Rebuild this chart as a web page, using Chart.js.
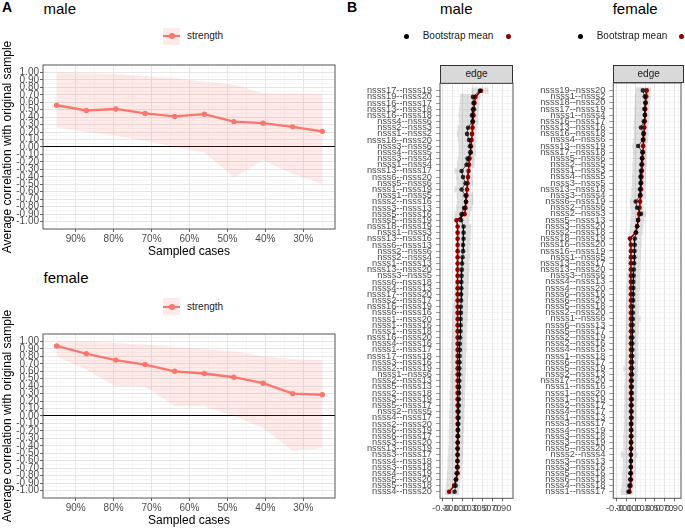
<!DOCTYPE html>
<html>
<head>
<meta charset="utf-8">
<script src="https://cdn.jsdelivr.net/npm/chart.js@4.4.1/dist/chart.umd.min.js"></script>
<style>
body { margin: 0; background: #fff; }
#page { position: relative; width: 685px; height: 529px; overflow: hidden; font-family: 'Liberation Sans', Arial, sans-serif; }
#page canvas { position: absolute; }
.t { position: absolute; white-space: nowrap; font-size: 15px; line-height: 15px; color: #000; }
.tag { font-weight: bold; font-size: 14px; }
.lg { position: absolute; white-space: nowrap; font-size: 10px; line-height: 10px; color: #1a1a1a; }
.akey { position: absolute; width: 17px; height: 17px; background: rgba(248,118,109,0.15); }
.akey i { position: absolute; display: block; background: #F8766D; }
.akey .ln { left: 0; width: 17px; top: 7.5px; height: 2px; }
.akey .pt { left: 5.5px; top: 5.5px; width: 6px; height: 6px; border-radius: 50%; }
.dot { position: absolute; width: 5px; height: 5px; border-radius: 50%; }
.strip { position: absolute; background: #d9d9d9; border: 1px solid #333; box-sizing: border-box; font-size: 10px; color: #1a1a1a; text-align: center; }
</style>
</head>
<body>
<div id="page">
  <div class="t tag" style="left:2px;top:-0.5px">A</div>
  <div class="t" style="left:43.5px;top:0.5px">male</div>
  <div class="akey" style="left:163px;top:27.5px"><i class="ln"></i><i class="pt"></i></div>
  <div class="lg" style="left:187px;top:31px">strength</div>
  <canvas id="aMale" width="340" height="262" style="left:0;top:0"></canvas>

  <div class="t" style="left:43.5px;top:269.5px">female</div>
  <div class="akey" style="left:163px;top:298px"><i class="ln"></i><i class="pt"></i></div>
  <div class="lg" style="left:187px;top:301.5px">strength</div>
  <canvas id="aFemale" width="340" height="262" style="left:0;top:269px"></canvas>

  <div class="t tag" style="left:347px;top:-0.5px">B</div>
  <div class="t" style="left:440px;top:0.5px">male</div>
  <div class="dot" style="left:404.2px;top:33.5px;background:#000"></div>
  <div class="lg" style="left:422.7px;top:31px">Bootstrap mean</div>
  <div class="dot" style="left:505.5px;top:33.5px;background:#8B0000"></div>
  <div class="strip" style="left:440px;top:65px;width:73px;height:18.5px;line-height:16.5px">edge</div>
  <canvas id="bMale" width="185" height="465" style="left:345px;top:60px"></canvas>

  <div class="t" style="left:612.7px;top:0.5px">female</div>
  <div class="dot" style="left:577.5px;top:33.5px;background:#000"></div>
  <div class="lg" style="left:596.7px;top:31px">Bootstrap mean</div>
  <div class="dot" style="left:679.2px;top:33.5px;background:#8B0000"></div>
  <div class="strip" style="left:613.3px;top:64.5px;width:70.7px;height:18.8px;line-height:16.8px">edge</div>
  <canvas id="bFemale" width="165" height="465" style="left:520px;top:60px"></canvas>
</div>
<script>
// Panel A: case-dropping stability
const sampledCases = [0.95, 0.872, 0.794, 0.717, 0.639, 0.561, 0.483, 0.406, 0.328, 0.25];
const maleStrength = [0.56, 0.49, 0.51, 0.45, 0.41, 0.44, 0.34, 0.32, 0.27, 0.21];
const maleUpper = [1.0, 0.99, 0.98, 0.95, 0.92, 0.88, 0.84, 0.72, 0.71, 0.71];
const maleLower = [0.26, 0.20, 0.15, 0.085, 0.0, -0.07, -0.41, -0.18, -0.36, -0.50];
const femaleStrength = [0.94, 0.835, 0.75, 0.69, 0.60, 0.57, 0.52, 0.44, 0.30, 0.285];
const femaleUpper = [1.0, 1.0, 0.98, 0.96, 0.925, 0.90, 0.87, 0.80, 0.76, 0.75];
const femaleLower = [0.80, 0.62, 0.40, 0.40, 0.13, 0.13, 0.0, -0.16, -0.47, -0.43];

const pctBreaks = [0.9, 0.8, 0.7, 0.6, 0.5, 0.4, 0.3];
const corrBreaks = [-1, -0.9, -0.8, -0.7, -0.6, -0.5, -0.4, -0.3, -0.2, -0.1, 0,
                    0.1, 0.2, 0.3, 0.4, 0.5, 0.6, 0.7, 0.8, 0.9, 1];
const edgeBreaks = [-0.3, -0.1, 0.1, 0.3, 0.5, 0.7, 0.9];

// Panel B: edge weights, sorted as in the plot
const maleEdges = [
  'nsss17--nsss19', 'nsss19--nsss20', 'nsss16--nsss17', 'nsss13--nsss18', 'nsss16--nsss18',
  'nsss4--nsss6', 'nsss2--nsss3', 'nsss1--nsss2', 'nsss18--nsss20', 'nsss3--nsss6',
  'nsss4--nsss5', 'nsss3--nsss4', 'nsss1--nsss4', 'nsss13--nsss17', 'nsss6--nsss20',
  'nsss5--nsss6', 'nsss1--nsss19', 'nsss1--nsss5', 'nsss2--nsss16', 'nsss3--nsss13',
  'nsss5--nsss16', 'nsss5--nsss19', 'nsss18--nsss19', 'nsss1--nsss3', 'nsss13--nsss16',
  'nsss6--nsss13', 'nsss2--nsss6', 'nsss2--nsss4', 'nsss1--nsss13', 'nsss13--nsss20',
  'nsss3--nsss5', 'nsss6--nsss18', 'nsss4--nsss13', 'nsss17--nsss20', 'nsss2--nsss17',
  'nsss16--nsss19', 'nsss6--nsss16', 'nsss1--nsss20', 'nsss1--nsss16', 'nsss1--nsss18',
  'nsss16--nsss20', 'nsss4--nsss16', 'nsss1--nsss17', 'nsss17--nsss18', 'nsss3--nsss16',
  'nsss2--nsss19', 'nsss1--nsss6', 'nsss2--nsss13', 'nsss5--nsss13', 'nsss2--nsss18',
  'nsss3--nsss19', 'nsss5--nsss17', 'nsss2--nsss5', 'nsss4--nsss17', 'nsss2--nsss20',
  'nsss6--nsss19', 'nsss6--nsss17', 'nsss3--nsss20', 'nsss13--nsss19', 'nsss3--nsss17',
  'nsss4--nsss18', 'nsss3--nsss18', 'nsss4--nsss19', 'nsss5--nsss20', 'nsss5--nsss18',
  'nsss4--nsss20'
];
const maleSample = [
  0.47, 0.36, 0.34, 0.33, 0.32, 0.31, 0.30, 0.29, 0.28, 0.27,
  0.26, 0.24, 0.23, 0.22, 0.21, 0.20, 0.19, 0.18, 0.17, 0.16,
  0.14, -0.02, 0, 0, 0, 0, 0, 0, 0, 0,
  0, 0, 0, 0, 0, 0, 0, 0, 0, 0,
  0, 0, 0, 0, 0, 0, 0, 0, 0, 0,
  0, 0, 0, 0, 0, 0, 0, 0, 0, 0,
  0, 0, 0, -0.03, -0.07, -0.17
];
const maleBoot = [
  0.45, 0.31, 0.32, 0.31, 0.29, 0.30, 0.21, 0.19, 0.23, 0.25,
  0.26, 0.20, 0.18, 0.08, 0.11, 0.16, 0.08, 0.16, 0.17, 0.13,
  0.08, 0.07, 0.12, 0.12, 0.12, 0.11, 0.11, 0.10, 0.09, 0.085,
  0.08, 0.075, 0.075, 0.07, 0.07, 0.065, 0.065, 0.06, 0.06, 0.055,
  0.05, 0.045, 0.045, 0.04, 0.04, 0.035, 0.035, 0.035, 0.03, 0.03,
  0.025, 0.025, 0.02, 0.02, 0.015, 0.01, 0.01, 0.005, 0, 0,
  -0.005, -0.01, -0.02, -0.035, -0.04, -0.06
];
const maleCILow = [
  0.28, 0.05, 0.04, 0.03, 0.02, 0.03, 0.00, -0.01, 0.01, 0.02,
  0.02, 0.00, -0.01, -0.06, -0.03, -0.02, -0.06, -0.02, -0.01, -0.03,
  -0.06, -0.07, -0.01, -0.01, -0.02, -0.02, -0.02, -0.03, -0.03, -0.04,
  -0.04, -0.05, -0.06, -0.07, -0.08, -0.09, -0.10, -0.11, -0.11, -0.12,
  -0.12, -0.13, -0.13, -0.14, -0.14, -0.14, -0.15, -0.15, -0.15, -0.16,
  -0.16, -0.16, -0.17, -0.17, -0.17, -0.18, -0.18, -0.18, -0.19, -0.19,
  -0.20, -0.20, -0.21, -0.22, -0.23, -0.25
];
const maleCIHigh = [
  0.62, 0.46, 0.44, 0.43, 0.42, 0.42, 0.39, 0.38, 0.38, 0.37,
  0.37, 0.35, 0.34, 0.28, 0.30, 0.31, 0.27, 0.31, 0.32, 0.29,
  0.26, 0.24, 0.27, 0.27, 0.26, 0.26, 0.25, 0.25, 0.24, 0.24,
  0.23, 0.23, 0.22, 0.22, 0.21, 0.21, 0.20, 0.20, 0.19, 0.19,
  0.18, 0.18, 0.18, 0.17, 0.17, 0.17, 0.16, 0.16, 0.16, 0.15,
  0.15, 0.15, 0.14, 0.14, 0.13, 0.13, 0.12, 0.12, 0.11, 0.11,
  0.10, 0.09, 0.08, 0.06, 0.05, 0.03
];

const femaleEdges = [
  'nsss19--nsss20', 'nsss1--nsss2', 'nsss18--nsss20', 'nsss17--nsss19', 'nsss1--nsss4',
  'nsss16--nsss17', 'nsss13--nsss16', 'nsss16--nsss18', 'nsss4--nsss6', 'nsss13--nsss19',
  'nsss17--nsss18', 'nsss5--nsss6', 'nsss2--nsss5', 'nsss1--nsss3', 'nsss4--nsss5',
  'nsss3--nsss5', 'nsss13--nsss18', 'nsss3--nsss4', 'nsss6--nsss19', 'nsss2--nsss6',
  'nsss2--nsss3', 'nsss5--nsss13', 'nsss3--nsss20', 'nsss2--nsss18', 'nsss18--nsss19',
  'nsss16--nsss20', 'nsss16--nsss19', 'nsss1--nsss5', 'nsss13--nsss17', 'nsss13--nsss20',
  'nsss3--nsss6', 'nsss4--nsss13', 'nsss4--nsss20', 'nsss6--nsss16', 'nsss6--nsss20',
  'nsss5--nsss18', 'nsss2--nsss20', 'nsss1--nsss6', 'nsss6--nsss13', 'nsss5--nsss17',
  'nsss2--nsss19', 'nsss2--nsss16', 'nsss4--nsss16', 'nsss1--nsss18', 'nsss6--nsss17',
  'nsss5--nsss19', 'nsss2--nsss13', 'nsss17--nsss20', 'nsss1--nsss16', 'nsss1--nsss20',
  'nsss1--nsss19', 'nsss2--nsss17', 'nsss4--nsss17', 'nsss1--nsss13', 'nsss3--nsss17',
  'nsss4--nsss19', 'nsss3--nsss18', 'nsss3--nsss19', 'nsss5--nsss20', 'nsss2--nsss4',
  'nsss3--nsss13', 'nsss3--nsss16', 'nsss5--nsss16', 'nsss6--nsss18', 'nsss4--nsss18',
  'nsss1--nsss17'
];
const femaleSample = [
  0.33, 0.32, 0.31, 0.30, 0.295, 0.29, 0.28, 0.27, 0.26, 0.255,
  0.25, 0.24, 0.235, 0.23, 0.22, 0.215, 0.21, 0.20, 0.19, 0.18,
  0.17, 0.15, 0.13, 0.10, -0.02, 0, 0, 0, 0, 0,
  0, 0, 0, 0, 0, 0, 0, 0, 0, 0,
  0, 0, 0, 0, 0, 0, 0, 0, 0, 0,
  0, 0, 0, 0, 0, 0, 0, 0, 0, 0,
  0, 0, 0, 0, -0.01, -0.03
];
const femaleBoot = [
  0.25, 0.29, 0.30, 0.28, 0.29, 0.27, 0.21, 0.26, 0.25, 0.15,
  0.24, 0.23, 0.22, 0.21, 0.20, 0.20, 0.19, 0.19, 0.10, 0.13,
  0.21, 0.15, 0.13, 0.11, 0.08, 0.08, 0.075, 0.07, 0.065, 0.06,
  0.055, 0.05, 0.05, 0.045, 0.045, 0.04, 0.04, 0.04, 0.035, 0.035,
  0.03, 0.03, 0.03, 0.03, 0.025, 0.025, 0.025, 0.02, 0.02, 0.02,
  0.02, 0.015, 0.015, 0.015, 0.01, 0.01, 0.01, 0.005, 0.005, 0,
  0, -0.005, -0.01, -0.015, -0.03, -0.05
];
const femaleCILow = [
  0.10, 0.08, 0.08, 0.07, 0.07, 0.06, 0.05, 0.06, 0.05, 0.03,
  0.04, 0.04, 0.03, 0.03, 0.02, 0.02, 0.01, 0.01, -0.02, -0.01,
  0.00, -0.01, -0.02, -0.03, -0.04, -0.05, -0.05, -0.06, -0.07, -0.07,
  -0.08, -0.08, -0.09, -0.09, -0.10, -0.10, -0.10, -0.11, -0.11, -0.11,
  -0.12, -0.12, -0.12, -0.12, -0.13, -0.16, -0.13, -0.13, -0.14, -0.14,
  -0.14, -0.14, -0.15, -0.15, -0.15, -0.15, -0.16, -0.16, -0.16, -0.21,
  -0.17, -0.17, -0.18, -0.18, -0.19, -0.21
];
const femaleCIHigh = [
  0.42, 0.41, 0.40, 0.39, 0.39, 0.38, 0.36, 0.37, 0.36, 0.33,
  0.34, 0.33, 0.33, 0.32, 0.31, 0.31, 0.30, 0.30, 0.25, 0.27,
  0.31, 0.28, 0.26, 0.25, 0.22, 0.22, 0.21, 0.21, 0.20, 0.20,
  0.19, 0.19, 0.19, 0.18, 0.18, 0.18, 0.17, 0.20, 0.17, 0.17,
  0.16, 0.16, 0.16, 0.16, 0.15, 0.15, 0.15, 0.14, 0.14, 0.14,
  0.14, 0.13, 0.13, 0.13, 0.12, 0.12, 0.12, 0.11, 0.11, 0.14,
  0.10, 0.10, 0.09, 0.08, 0.07, 0.05
];

Chart.defaults.font.family = "'Liberation Sans', Arial, sans-serif";
const salmon = '#F8766D';
const darkred = '#8B0000';

// major breaks plus ggplot-style minor breaks halfway between them
function withMinor(breaks, min, max) {
  const s = [...breaks].sort((a, b) => a - b);
  const step = s[1] - s[0];
  const out = s.map(v => ({ value: v, isMajor: true }));
  for (let i = -1; i < s.length; i++) {
    const m = s[0] + (i + 0.5) * step;
    if (m > min && m < max) out.push({ value: m, isMajor: false });
  }
  return out.sort((a, b) => a.value - b.value);
}

const major = ctx => ctx.tick && ctx.tick.isMajor;
const gridColor = ctx => major(ctx) ? '#e3e3e3' : '#efefef';
const gridWidth = ctx => major(ctx) ? 0.9 : 0.5;
const tickColor = ctx => major(ctx) ? '#555' : 'rgba(0,0,0,0)';

const panelBorder = {
  id: 'panelBorder',
  afterDraw(chart) {
    const { ctx, chartArea: a } = chart;
    ctx.save();
    ctx.strokeStyle = '#555';
    ctx.lineWidth = 1;
    ctx.strokeRect(a.left, a.top, a.width, a.height);
    ctx.restore();
  }
};

function pts(values) {
  return sampledCases.map((x, i) => ({ x: x, y: values[i] }));
}

function panelA(id, strength, lower, upper) {
  new Chart(document.getElementById(id), {
    type: 'line',
    data: {
      datasets: [
        { label: 'strength', data: pts(strength), borderColor: salmon, backgroundColor: salmon,
          borderWidth: 2.3, pointRadius: 2.7, pointBorderWidth: 0, pointBackgroundColor: salmon },
        { label: 'upper', data: pts(upper), borderColor: 'rgba(0,0,0,0)', borderWidth: 0, pointRadius: 0, fill: false },
        { label: 'lower', data: pts(lower), borderColor: 'rgba(0,0,0,0)', borderWidth: 0, pointRadius: 0,
          fill: 1, backgroundColor: 'rgba(248,118,109,0.15)' }
      ]
    },
    options: {
      responsive: false,
      animation: false,
      devicePixelRatio: 1,
      layout: { padding: { left: 0, right: 5, top: 65, bottom: 0 } },
      plugins: { legend: { display: false }, tooltip: { enabled: false } },
      scales: {
        x: {
          type: 'linear', reverse: true, min: 0.2165, max: 0.986,
          afterBuildTicks: s => { s.ticks = withMinor(pctBreaks, s.min, s.max); },
          afterFit: s => { s.height = 33; s.paddingLeft = 0; s.paddingRight = 0; },
          ticks: { autoSkip: false, maxRotation: 0, minRotation: 0, padding: 1, color: '#4d4d4d', font: { size: 10 },
                   callback: (v, i, t) => t[i].isMajor ? Math.round(v * 100) + '%' : '' },
          grid: { color: gridColor, lineWidth: gridWidth, tickLength: 3, tickColor: tickColor },
          border: { display: false },
          title: { display: true, text: 'Sampled cases', color: '#000', font: { size: 12 }, padding: { top: 0, bottom: 3 } }
        },
        y: {
          type: 'linear', min: -1.1, max: 1.1,
          afterBuildTicks: s => { s.ticks = withMinor(corrBreaks, s.min, s.max); },
          afterFit: s => { s.width = 43; s.paddingTop = 0; s.paddingBottom = 0; },
          ticks: { autoSkip: false, padding: 1, color: '#4d4d4d', font: { size: 10 },
                   callback: (v, i, t) => t[i].isMajor ? v.toFixed(2) : '' },
          grid: {
            color: ctx => ctx.tick && ctx.tick.value === 0 ? '#000' : gridColor(ctx),
            lineWidth: ctx => ctx.tick && ctx.tick.value === 0 ? 1.1 : gridWidth(ctx),
            tickLength: 3, tickColor: tickColor
          },
          border: { display: false },
          title: { display: true, text: 'Average correlation with original sample', color: '#000',
                   font: { size: 12 }, padding: { top: 0, bottom: 0 } }
        }
      }
    },
    plugins: [panelBorder]
  });
}

function panelB(id, edges, sample, boot, lo, hi, xmin, xmax, yWidth, top, right) {
  new Chart(document.getElementById(id), {
    type: 'bar',
    data: {
      labels: edges.map((e, i) => i),
      datasets: [
        { type: 'line', label: 'Bootstrap mean', data: boot, borderColor: 'rgba(0,0,0,0.8)', borderWidth: 0.8,
          pointRadius: 2.3, pointBorderWidth: 0, pointBackgroundColor: 'rgba(0,0,0,0.8)' },
        { type: 'line', label: 'Sample', data: sample, borderColor: darkred, borderWidth: 1.6,
          pointRadius: 2.3, pointBorderWidth: 0, pointBackgroundColor: darkred },
        { type: 'bar', label: 'CI', data: lo.map((v, i) => [v, hi[i]]), backgroundColor: 'rgba(0,0,0,0.12)',
          borderWidth: 0, barPercentage: 1, categoryPercentage: 1, inflateAmount: 0 }
      ]
    },
    options: {
      indexAxis: 'y',
      responsive: false,
      animation: false,
      devicePixelRatio: 1,
      layout: { padding: { left: 0, right: right, top: top, bottom: 0 } },
      plugins: { legend: { display: false }, tooltip: { enabled: false } },
      scales: {
        x: {
          type: 'linear', min: xmin, max: xmax,
          afterBuildTicks: s => { s.ticks = withMinor(edgeBreaks, s.min, s.max); },
          afterFit: s => { s.height = 26.7; s.paddingLeft = 0; s.paddingRight = 0; },
          ticks: { autoSkip: false, maxRotation: 0, minRotation: 0, padding: 1.5, color: '#4d4d4d', font: { size: 9.3 },
                   callback: (v, i, t) => t[i].isMajor ? v.toFixed(2) : '' },
          grid: { color: gridColor, lineWidth: gridWidth, tickLength: 3, tickColor: tickColor },
          border: { display: false }
        },
        y: {
          type: 'linear', reverse: true, min: -1.2, max: 66.05, offset: false,
          afterBuildTicks: s => { s.ticks = edges.map((e, i) => ({ value: i, isMajor: true })); },
          afterFit: s => { s.width = yWidth; s.paddingTop = 0; s.paddingBottom = 0; },
          ticks: { autoSkip: false, padding: 4, color: '#4d4d4d', font: { size: 9.3 },
                   callback: v => edges[v] },
          grid: { offset: false, color: '#ebebeb', lineWidth: 0.6, tickLength: 4, tickColor: '#555' },
          border: { display: false }
        }
      }
    },
    plugins: [panelBorder]
  });
}

panelA('aMale', maleStrength, maleLower, maleUpper);
panelA('aFemale', femaleStrength, femaleLower, femaleUpper);
panelB('bMale', maleEdges, maleSample, maleBoot, maleCILow, maleCIHigh, -0.354, 1.115, 95, 23.3, 17);
panelB('bFemale', femaleEdges, femaleSample, femaleBoot, femaleCILow, femaleCIHigh, -0.368, 1.046, 93.3, 23, 1);
</script>
</body>
</html>
